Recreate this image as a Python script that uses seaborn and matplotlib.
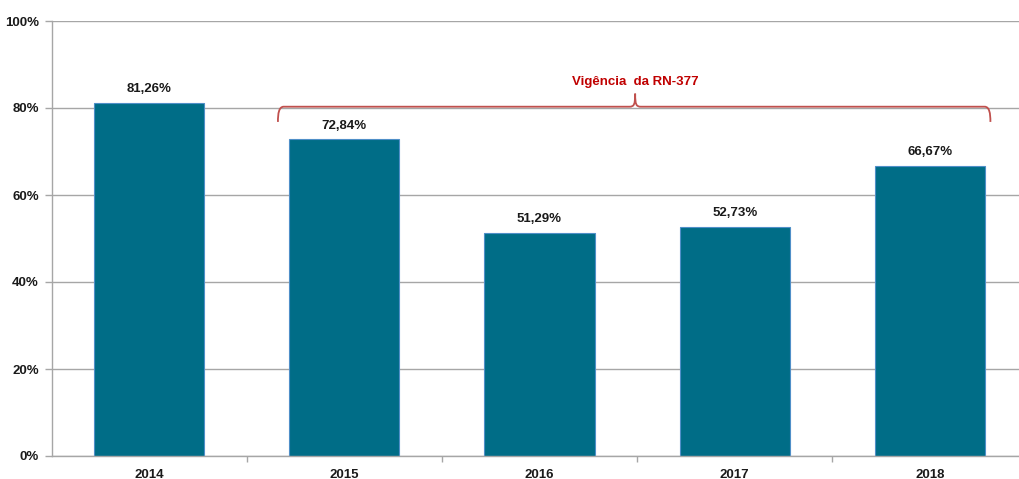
import matplotlib
matplotlib.use("Agg")
import matplotlib.pyplot as plt
from matplotlib.path import Path
from matplotlib.patches import PathPatch
from matplotlib.ticker import FixedLocator, FuncFormatter
import seaborn as sns
import pandas as pd

years = ["2014", "2015", "2016", "2017", "2018"]
values = [81.26, 72.84, 51.29, 52.73, 66.67]
value_labels = ["81,26%", "72,84%", "51,29%", "52,73%", "66,67%"]
yticks = [0, 20, 40, 60, 80, 100]
annotation_text = "Vigência  da RN-377"

sns.set_theme(style="white")
plt.rcParams['font.family'] = ['Liberation Sans', 'DejaVu Sans']

df = pd.DataFrame({"year": years, "value": values})

fig = plt.figure(figsize=(10.19, 4.79), dpi=100)
ax = fig.add_axes([51.5 / 1019, 23 / 479, 976 / 1019, 435 / 479])

sns.barplot(data=df, x="year", y="value", color="#006D87", width=0.565,
            edgecolor="#4F8FC8", linewidth=0.8, saturation=1, ax=ax)

ax.set_xlim(-0.5, 4.5)
ax.set_ylim(0, 100)
ax.set_yticks(yticks)
ax.yaxis.set_major_formatter(FuncFormatter(lambda v, p: f"{int(v)}%"))
ax.grid(axis="y", color="#A6A6A6", linewidth=1)
ax.set_axisbelow(True)
ax.set_xlabel("")
ax.set_ylabel("")

for s in ["top", "right"]:
    ax.spines[s].set_visible(False)
for s in ["left", "bottom"]:
    ax.spines[s].set_color("#A6A6A6")
    ax.spines[s].set_linewidth(1)

ax.tick_params(axis="y", which="major", length=5, width=1, color="#A6A6A6",
               direction="out", left=True, labelsize=9.5, pad=4)
ax.tick_params(axis="x", which="major", length=0, labelsize=9.5, pad=9)
ax.xaxis.set_minor_locator(FixedLocator([0.5, 1.5, 2.5, 3.5]))
ax.tick_params(axis="x", which="minor", length=4, width=1, color="#A6A6A6",
               direction="out", bottom=True)
for lbl in ax.get_xticklabels() + ax.get_yticklabels():
    lbl.set_fontweight("bold")
    lbl.set_color("#1a1a1a")

for i, (v, lab) in enumerate(zip(values, value_labels)):
    ax.annotate(lab, xy=(i, v), xytext=(0, 5.5), textcoords="offset points",
                ha="center", va="bottom", fontsize=9.5, fontweight="bold",
                color="#1a1a1a")

# bracket
x0, x1, xm = 0.66, 4.31, 2.49
yb, yend, ytip = 80.3, 76.8, 83.3
verts = [
    (x0, yend), (x0, yb - 1.5), (x0 + 0.005, yb), (x0 + 0.03, yb),
    (xm - 0.03, yb),
    (xm - 0.005, yb), (xm, yb + 0.5), (xm, ytip),
    (xm, yb + 0.5), (xm + 0.005, yb), (xm + 0.03, yb),
    (x1 - 0.03, yb),
    (x1 - 0.005, yb), (x1, yb - 1.5), (x1, yend),
]
codes = [Path.MOVETO, Path.CURVE4, Path.CURVE4, Path.CURVE4,
         Path.LINETO,
         Path.CURVE4, Path.CURVE4, Path.CURVE4,
         Path.CURVE4, Path.CURVE4, Path.CURVE4,
         Path.LINETO,
         Path.CURVE4, Path.CURVE4, Path.CURVE4]
ax.add_patch(PathPatch(Path(verts, codes), facecolor="none",
                       edgecolor="#C0504D", linewidth=1.3, zorder=5))
ax.text(xm, 84.6, annotation_text, ha="center", va="bottom", fontsize=9.5,
        fontweight="bold", color="#C00000")

fig.savefig("out.png", dpi=100)
